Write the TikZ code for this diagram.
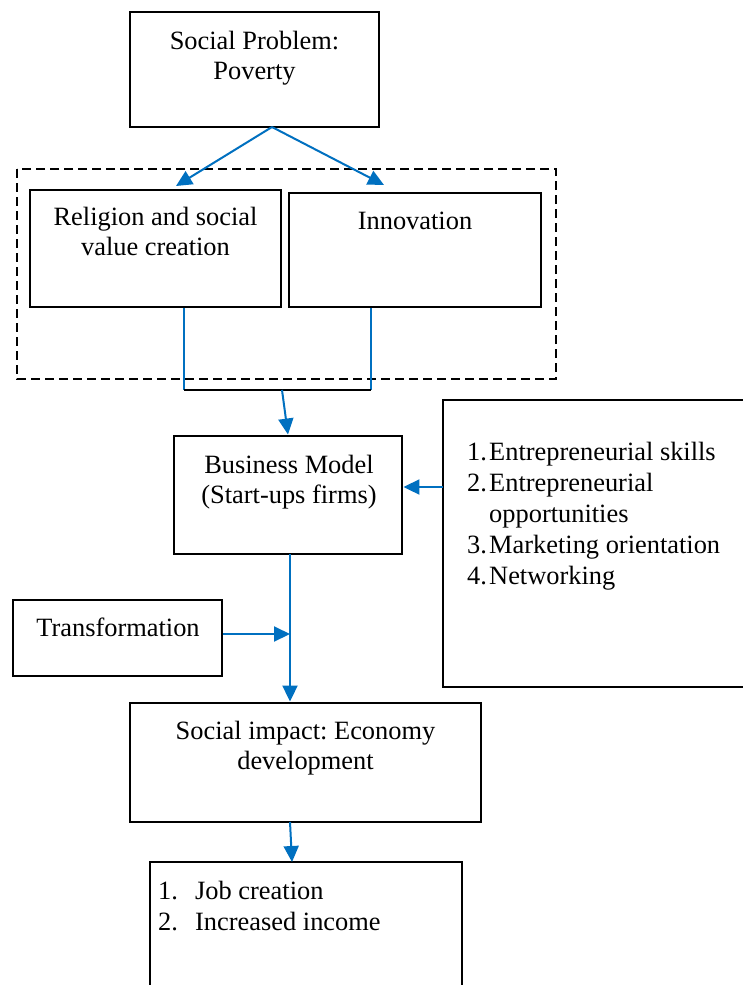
\documentclass[tikz,border=0pt]{standalone}
\usepackage{fontspec}
\setmainfont{Liberation Serif}
\usetikzlibrary{arrows.meta}
\definecolor{flow}{RGB}{0,112,192}
\frenchspacing
\begin{document}
\begin{tikzpicture}[x=1pt,y=-1pt,
  box/.style={draw=black,line width=2.9pt,inner sep=0pt,fill=none},
  label/.style={inner sep=0pt,anchor=base,align=center,
    font=\fontsize{26.4}{30}\selectfont},
  listtext/.style={inner sep=0pt,anchor=base west,
    font=\fontsize{26.4}{31}\selectfont},
  flowline/.style={draw=flow,line width=2pt},
  flowarrow/.style={flowline,-{Triangle[length=16pt,width=15pt]}}]

\clip (0,0) rectangle (743,985);
\fill[white] (0,0) rectangle (743,985);

% boxes
\node[box,minimum width=249pt,minimum height=115pt] (prob) at (254.5,69.5) {};
\draw[black,line width=2.4pt,dash pattern=on 9pt off 5pt] (17,169) rectangle (556,379);
\node[box,minimum width=251pt,minimum height=117pt] (relig) at (155.5,248.5) {};
\node[box,minimum width=252pt,minimum height=114pt] (innov) at (415,250) {};
\node[box,minimum width=228pt,minimum height=118pt] (bm) at (288,495) {};
\node[box,minimum width=209pt,minimum height=76pt] (trans) at (117.5,638) {};
\node[box,minimum width=351pt,minimum height=119pt] (impact) at (305.5,762.5) {};
\node[box,minimum width=317pt,minimum height=287pt] (skillbox) at (601.5,543.5) {};
\coordinate (skillsW) at (443,487);
\draw[box] (150,1000) -- (150,862) -- (462,862) -- (462,1000);
\coordinate (outN) at (292,862);

% texts (each node sits on the baseline of its last line)
\node[label] (tprob) at (254.5,79) {Social Problem:\\Poverty};
\node[label] (trelig) at (155.5,255) {Religion and social\\value creation};
\node[label] (tinnov) at (415,229) {Innovation};
\node[label] (tbm) at (289,503) {Business Model\\(Start-ups firms)};
\node[label] (ttrans) at (118,636) {Transformation};
\node[label] (timpact) at (305.5,769) {Social impact: Economy\\development};
\node[listtext] (skills) at (467,460) {\begin{tabular}[t]{@{}p{22pt}@{}l@{}}
1. & Entrepreneurial skills\\
2. & Entrepreneurial\\
   & opportunities\\
3. & Marketing orientation\\
4. & Networking
\end{tabular}};
\node[listtext] (outcomes) at (158,899) {\begin{tabular}[t]{@{}p{37pt}@{}l@{}}
1. & Job creation\\
2. & Increased income
\end{tabular}};

% connectors
\coordinate (apex) at (272,127);
\draw[flowarrow] (apex) -- (176,186);
\draw[flowarrow] (apex) -- (384,185);
\coordinate (rjoin) at (184,390);
\coordinate (ijoin) at (371,390);
\draw[flowline] (relig.south -| rjoin) -- (rjoin);
\draw[flowline] (innov.south -| ijoin) -- (ijoin);
\draw[black,line width=1.8pt] (rjoin) -- (ijoin);
\coordinate (mid) at (282,390);
\draw[flowarrow] (mid) -- (bm.north);
\draw[flowarrow] (skillsW) -- (skillsW -| bm.east);
\coordinate (bmS) at (290,554);
\draw[flowarrow] (bmS) -- (bmS |- impact.north);
\draw[flowarrow] (trans.east |- 0,634) -- (290,634);
\coordinate (impS) at (290,822);
\draw[flowarrow] (impS) -- (outN);
\end{tikzpicture}
\end{document}
